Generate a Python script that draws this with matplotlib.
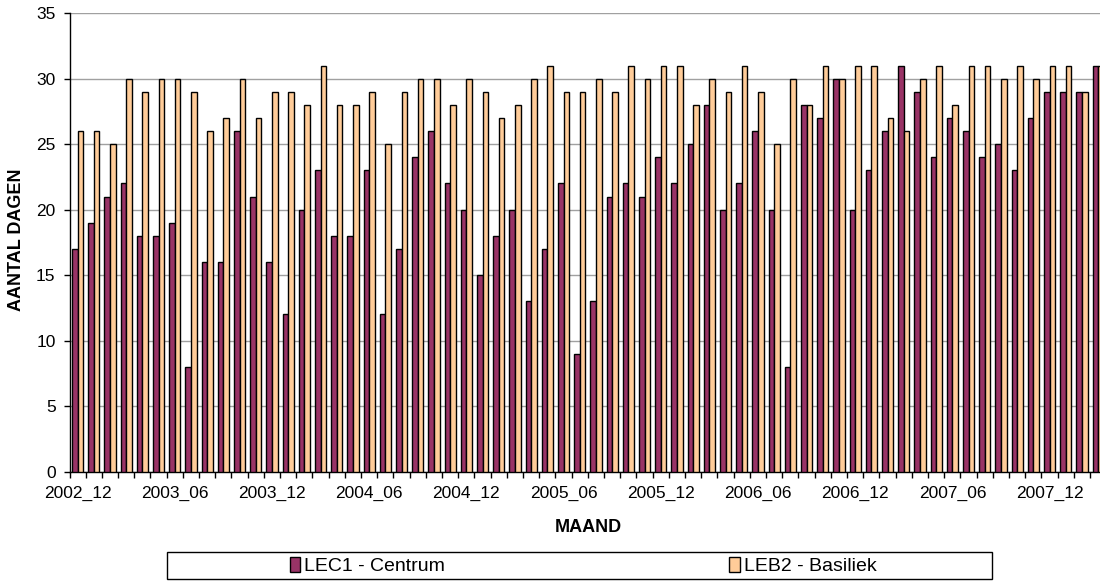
import numpy as np
import matplotlib
matplotlib.use("Agg")
from matplotlib import pyplot as plt
from matplotlib.patches import Rectangle

plt.rcParams['font.family'] = ['Liberation Sans', 'DejaVu Sans']

# monthly counts, 2002_12 .. 2008_03
months = []
for y in range(2002, 2009):
    for m in range(1, 13):
        if (y, m) >= (2002, 12) and (y, m) <= (2008, 3):
            months.append("%d_%02d" % (y, m))

lec1 = [17, 19, 21, 22, 18, 18, 19, 8, 16, 16, 26, 21, 16, 12, 20, 23,
        18, 18, 23, 12, 17, 24, 26, 22, 20, 15, 18, 20, 13, 17, 22, 9,
        13, 21, 22, 21, 24, 22, 25, 28, 20, 22, 26, 20, 8, 28, 27, 30,
        20, 23, 26, 31, 29, 24, 27, 26, 24, 25, 23, 27, 29, 29, 29, 31]
leb2 = [26, 26, 25, 30, 29, 30, 30, 29, 26, 27, 30, 27, 29, 29, 28, 31,
        28, 28, 29, 25, 29, 30, 30, 28, 30, 29, 27, 28, 30, 31, 29, 29,
        30, 29, 31, 30, 31, 31, 28, 30, 29, 31, 29, 25, 30, 28, 31, 30,
        31, 31, 27, 26, 30, 31, 28, 31, 31, 30, 31, 30, 31, 31, 29, 31]

c_lec = '#993366'
c_leb = '#FFCC99'

W, H = 1100, 582
fig = plt.figure(figsize=(W / 100, H / 100), dpi=100)
# plot area runs a bit past the right edge, like the original
ax = fig.add_axes([69.5 / W, (H - 471.5) / H, 64 * 16.2 / W, 458.2 / H])

x = np.arange(len(months))
bw = 0.35
ax.bar(x - bw / 2, lec1, bw, color=c_lec, edgecolor='black', linewidth=1,
       label='LEC1 - Centrum', zorder=3)
ax.bar(x + bw / 2, leb2, bw, color=c_leb, edgecolor='black', linewidth=1,
       label='LEB2 - Basiliek', zorder=3)

ax.set_xlim(-0.5, len(months) - 0.5)
ax.set_ylim(0, 35)
ax.set_yticks(range(0, 36, 5))
ax.yaxis.grid(True, color='#a0a0a0', linewidth=1, zorder=0)

# tick marks between categories, labels every 6 months
ax.set_xticks(x[::6])
ax.set_xticklabels(months[::6])
ax.set_xticks(np.arange(len(months) + 1) - 0.5, minor=True)
ax.tick_params(axis='x', which='major', length=0, pad=10, labelsize=12.5)
ax.tick_params(axis='x', which='minor', length=4, width=1, direction='out')
ax.tick_params(axis='y', length=4, width=1, pad=6, labelsize=12.5)

for s in ['top', 'right']:
    ax.spines[s].set_visible(False)
ax.spines['left'].set_linewidth(1)
ax.spines['bottom'].set_linewidth(1)

fig.text(588 / W, 1 - 527 / H, 'MAAND', ha='center', va='center',
         fontsize=13, fontweight='bold')
fig.text(17 / W, 1 - 240 / H, 'AANTAL DAGEN', ha='center', va='center',
         rotation=90, fontsize=13, fontweight='bold')

# legend frame drawn by hand, entries spread over it
fig.patches.append(Rectangle((167 / W, 1 - 579 / H), 825 / W, 27 / H,
                             transform=fig.transFigure, fill=False,
                             edgecolor='black', linewidth=1))
fig.legend(loc='center', bbox_to_anchor=(583 / W, 1 - 566 / H), ncol=2,
           frameon=False, fontsize=14, handlelength=0.55, handleheight=0.8,
           handletextpad=0.2, columnspacing=14.6)

plt.savefig('out.png', dpi=100)
